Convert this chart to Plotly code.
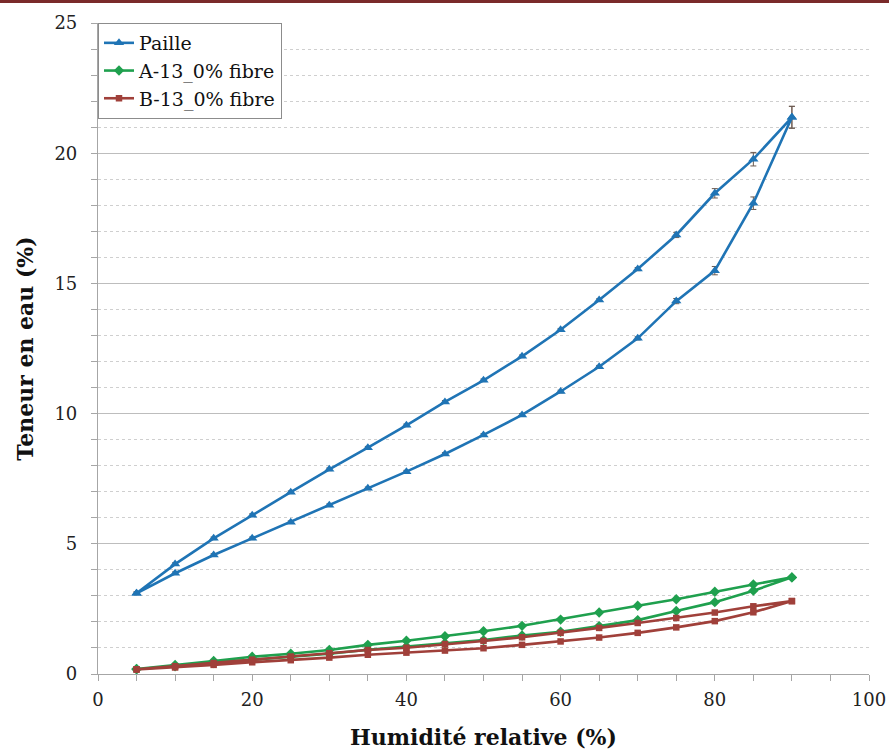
import plotly.graph_objects as go

# Relative humidity steps (adsorption up, then desorption down)
rh_ads = [5, 10, 15, 20, 25, 30, 35, 40, 45, 50, 55, 60, 65, 70, 75, 80, 85, 90]
rh_des = [90, 85, 80, 75, 70, 65, 60, 55, 50, 45, 40, 35, 30, 25, 20, 15, 10, 5]

paille_ads = [3.10, 3.87, 4.57, 5.21, 5.83, 6.48, 7.13, 7.77, 8.45, 9.18, 9.95, 10.85, 11.80, 12.89, 14.32, 15.49, 18.08, 21.38]
paille_des = [21.38, 19.77, 18.46, 16.86, 15.55, 14.36, 13.22, 12.20, 11.28, 10.45, 9.55, 8.69, 7.86, 6.98, 6.10, 5.21, 4.22, 3.10]
paille_err_ads = [0.05, 0.05, 0.05, 0.05, 0.05, 0.05, 0.05, 0.05, 0.05, 0.05, 0.05, 0.05, 0.05, 0.06, 0.10, 0.16, 0.24, 0.42]
paille_err_des = [0.42, 0.26, 0.18, 0.10, 0.06, 0.05, 0.05, 0.05, 0.05, 0.05, 0.05, 0.05, 0.05, 0.05, 0.05, 0.05, 0.05, 0.05]

a13_ads = [0.18, 0.30, 0.42, 0.55, 0.66, 0.78, 0.93, 1.05, 1.18, 1.30, 1.48, 1.62, 1.84, 2.07, 2.42, 2.76, 3.20, 3.71]
a13_des = [3.71, 3.44, 3.16, 2.87, 2.62, 2.36, 2.09, 1.85, 1.64, 1.45, 1.28, 1.12, 0.92, 0.78, 0.66, 0.50, 0.35, 0.19]

b13_ads = [0.17, 0.25, 0.35, 0.45, 0.53, 0.63, 0.74, 0.82, 0.90, 0.99, 1.12, 1.25, 1.40, 1.58, 1.79, 2.03, 2.37, 2.80]
b13_des = [2.80, 2.60, 2.36, 2.15, 1.96, 1.77, 1.58, 1.41, 1.27, 1.15, 1.01, 0.92, 0.80, 0.67, 0.55, 0.42, 0.30, 0.18]

series_names = ["Paille", "A-13_0% fibre", "B-13_0% fibre"]
x_ticks = [0, 20, 40, 60, 80, 100]
y_ticks = [0, 5, 10, 15, 20, 25]

FONT = "DejaVu Serif"
BLUE = "#1F74B5"
GREEN = "#1FA04E"
BROWN = "#A0403A"

fig = go.Figure()

fig.add_trace(go.Scatter(
    x=rh_ads + rh_des, y=paille_ads + paille_des, name=series_names[0],
    mode="lines+markers",
    line=dict(color=BLUE, width=2.6),
    marker=dict(symbol="triangle-up", size=9, color=BLUE),
    error_y=dict(type="data", array=paille_err_ads + paille_err_des, visible=True,
                 color="#6B5A50", thickness=1, width=3),
))
fig.add_trace(go.Scatter(
    x=rh_ads + rh_des, y=a13_ads + a13_des, name=series_names[1],
    mode="lines+markers",
    line=dict(color=GREEN, width=2.6),
    marker=dict(symbol="diamond", size=8, color=GREEN),
))
fig.add_trace(go.Scatter(
    x=rh_ads + rh_des, y=b13_ads + b13_des, name=series_names[2],
    mode="lines+markers",
    line=dict(color=BROWN, width=2.6),
    marker=dict(symbol="square", size=6.5, color=BROWN),
))

W, H = 889, 754
L, R, T, B = 98, 20, 23, 80
pw, ph = W - L - R, H - T - B

fig.update_layout(
    width=W, height=H,
    margin=dict(l=L, r=R, t=T, b=B, autoexpand=False),
    paper_bgcolor="white", plot_bgcolor="white",
    font=dict(family=FONT, size=18, color="#222222"),
    showlegend=True,
    legend=dict(x=0, y=1, xanchor="left", yanchor="top",
                bgcolor="white", bordercolor="#8C8C8C", borderwidth=1,
                font=dict(family=FONT, size=19, color="#111111"),
                itemwidth=30, tracegroupgap=0),
    shapes=[dict(type="rect", xref="paper", yref="paper",
                 x0=-L / pw - 0.01, x1=1 + R / pw + 0.01,
                 y0=1 + (T - 3) / ph, y1=1 + (T + 2) / ph,
                 fillcolor="#7A2A2A", line=dict(width=0), layer="above")],
)

fig.update_xaxes(
    range=[0, 100], tickvals=x_ticks, ticktext=[str(v) for v in x_ticks],
    automargin=False,
    showgrid=False, zeroline=False,
    showline=True, linecolor="#A6A6A6", linewidth=1.2,
    ticks="outside", ticklen=6, tickcolor="#A6A6A6",
    ticklabelstandoff=3,
    minor=dict(dtick=5, ticks="outside", ticklen=6, tickcolor="#A6A6A6", showgrid=False),
    tickfont=dict(family=FONT, size=18, color="#222222"),
    title=dict(text="<b>Humidité relative (%)</b>", font=dict(family=FONT, size=22, color="#111111"), standoff=20),
)
fig.update_yaxes(
    range=[0, 25], tickvals=y_ticks, ticktext=[str(v) for v in y_ticks],
    automargin=False,
    showgrid=True, gridcolor="#BDBDBD", gridwidth=1.2, zeroline=False,
    showline=True, linecolor="#A6A6A6", linewidth=1.2,
    ticks="outside", ticklen=6, tickcolor="#A6A6A6",
    ticklabelstandoff=10,
    minor=dict(dtick=1, ticks="outside", ticklen=6, tickcolor="#A6A6A6",
               showgrid=True, gridcolor="#CFCFCF", griddash="dot", gridwidth=1),
    tickfont=dict(family=FONT, size=18, color="#222222"),
    title=dict(text="<b>Teneur en eau (%)</b>", font=dict(family=FONT, size=22, color="#111111"), standoff=14),
)

fig.write_html("out.html", config={"displayModeBar": False},
               post_script="document.body.style.margin='0';document.body.style.padding='0';")
